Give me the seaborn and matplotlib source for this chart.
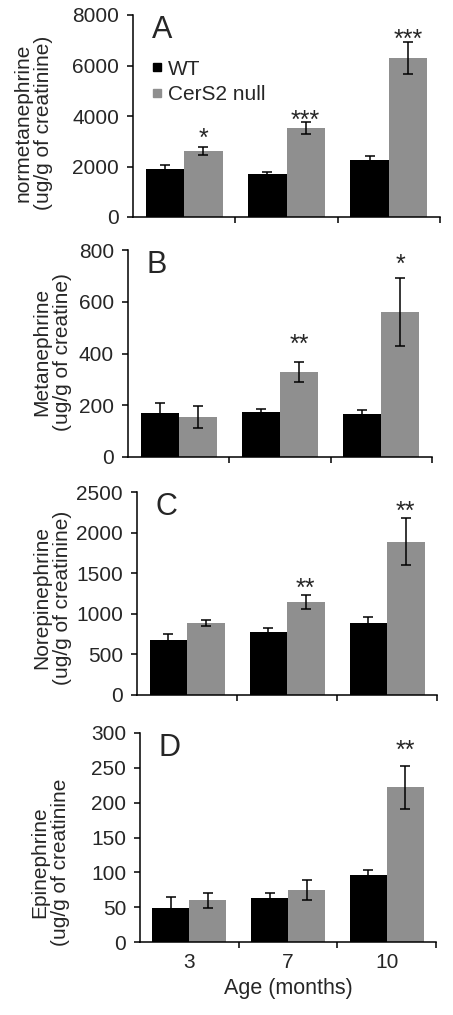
import numpy as np
import pandas as pd
import matplotlib
matplotlib.use("Agg")
import matplotlib.pyplot as plt
import seaborn as sns
from matplotlib.lines import Line2D

sns.set_style("ticks")
plt.rcParams['font.family'] = ['Liberation Sans', 'DejaVu Sans']

ages = ["3", "7", "10"]
genotypes = ["WT", "CerS2 null"]

# Panel A: normetanephrine
nmn_wt = [1900, 1720, 2270]
nmn_wt_err = [170, 80, 160]
nmn_ko = [2620, 3520, 6300]
nmn_ko_err = [150, 240, 650]
# Panel B: metanephrine
mn_wt = [170, 173, 166]
mn_wt_err = [40, 11, 14]
mn_ko = [155, 328, 560]
mn_ko_err = [42, 40, 130]
# Panel C: norepinephrine
ne_wt = [676, 775, 890]
ne_wt_err = [80, 55, 70]
ne_ko = [890, 1150, 1890]
ne_ko_err = [35, 85, 290]
# Panel D: epinephrine
epi_wt = [49, 63, 96]
epi_wt_err = [15, 7, 7]
epi_ko = [60, 75, 222]
epi_ko_err = [11, 14, 31]

# significance annotations: (age index, label, y baseline in data units)
stars_a = [(0, "*", 2800), (1, "***", 3550), (2, "***", 6720)]
stars_b = [(1, "**", 408), (2, "*", 717)]
stars_c = [(1, "**", 1215), (2, "**", 2165)]
stars_d = [(2, "**", 265)]

panels = [
    dict(wt=nmn_wt, wte=nmn_wt_err, ko=nmn_ko, koe=nmn_ko_err, stars=stars_a,
         ylim=8000, ticks=[0, 2000, 4000, 6000, 8000], letter="A",
         ylabel="normetanephrine\n(ug/g of creatinine)",
         pos=[133, 440, 15, 217], lab=(-0.261, 0.468)),
    dict(wt=mn_wt, wte=mn_wt_err, ko=mn_ko, koe=mn_ko_err, stars=stars_b,
         ylim=800, ticks=[0, 200, 400, 600, 800], letter="B",
         ylabel="Metanephrine\n(ug/g of creatine)",
         pos=[128, 432, 250, 457], lab=(-0.184, 0.507)),
    dict(wt=ne_wt, wte=ne_wt_err, ko=ne_ko, koe=ne_ko_err, stars=stars_c,
         ylim=2500, ticks=[0, 500, 1000, 1500, 2000, 2500], letter="C",
         ylabel="Norepinephrine\n(ug/g of creatinine)",
         pos=[137, 437, 492, 695], lab=(-0.217, 0.478)),
    dict(wt=epi_wt, wte=epi_wt_err, ko=epi_ko, koe=epi_ko_err, stars=stars_d,
         ylim=300, ticks=[0, 50, 100, 150, 200, 250, 300], letter="D",
         ylabel="Epinephrine\n(ug/g of creatinine",
         pos=[140, 436, 733, 942], lab=(-0.236, 0.383)),
]

W, H = 453, 1015
fig = plt.figure(figsize=(W / 100, H / 100), dpi=100)
colors = {"WT": "black", "CerS2 null": "#8f8f8f"}

for i, p in enumerate(panels):
    l, r, t, b = p["pos"]
    ax = fig.add_axes([l / W, 1 - b / H, (r - l) / W, (b - t) / H])
    df = pd.DataFrame({
        "age": ages * 2,
        "genotype": ["WT"] * 3 + ["CerS2 null"] * 3,
        "value": list(p["wt"]) + list(p["ko"]),
    })
    errs = {"WT": p["wte"], "CerS2 null": p["koe"]}
    sns.barplot(data=df, x="age", y="value", hue="genotype", order=ages,
                hue_order=genotypes, palette=colors, width=0.75, saturation=1,
                errorbar=None, legend=False, ax=ax, linewidth=0)
    for cont, g in zip(ax.containers, genotypes):
        xs = [bar.get_x() + bar.get_width() / 2 for bar in cont]
        ys = [bar.get_height() for bar in cont]
        ax.errorbar(xs, ys, yerr=errs[g], fmt="none", ecolor="black",
                    elinewidth=1.1, capsize=3.5, capthick=1.1, zorder=5)
    ko_cont = ax.containers[1]
    for idx, lab, yv in p["stars"]:
        bar = ko_cont[idx]
        ax.text(bar.get_x() + bar.get_width() / 2, yv, lab, ha="center",
                va="baseline", fontsize=18)
    ax.set_xlim(-0.5, 2.5)
    ax.set_ylim(0, p["ylim"])
    ax.set_yticks(p["ticks"])
    ax.set_yticklabels([str(v) for v in p["ticks"]], fontsize=15)
    ax.set_xticks([0.5, 1.5, 2.5])
    ax.set_xticklabels([])
    ax.set_xticks([0, 1, 2], minor=True)
    if i == 3:
        ax.set_xticklabels(ages, minor=True, fontsize=15)
        ax.set_xlabel("Age (months)", fontsize=15.5, labelpad=4)
    else:
        ax.set_xticklabels([], minor=True)
        ax.set_xlabel("")
    ax.tick_params(axis="x", which="minor", length=0, pad=8)
    ax.tick_params(axis="both", which="major", length=4, width=1.1,
                   direction="out", color="black", pad=6)
    ax.set_ylabel(p["ylabel"], fontsize=15, linespacing=1.1)
    ax.yaxis.set_label_coords(*p["lab"])
    sns.despine(ax=ax)
    for s in ["left", "bottom"]:
        ax.spines[s].set_linewidth(1.1)
        ax.spines[s].set_color("black")
    ax.text(0.062, 1.0, p["letter"], transform=ax.transAxes, fontsize=22,
            ha="left", va="top")
    if i == 0:
        handles = [Line2D([], [], marker="s", linestyle="none",
                          markerfacecolor=colors[g], markeredgecolor=colors[g],
                          markersize=6) for g in genotypes]
        ax.legend(handles, genotypes, loc="upper left",
                  bbox_to_anchor=(0.03, 0.82), frameon=False, fontsize=15,
                  handlelength=0.6, handletextpad=0.25, labelspacing=0.3,
                  borderaxespad=0)

fig.savefig("out.png", dpi=100)
